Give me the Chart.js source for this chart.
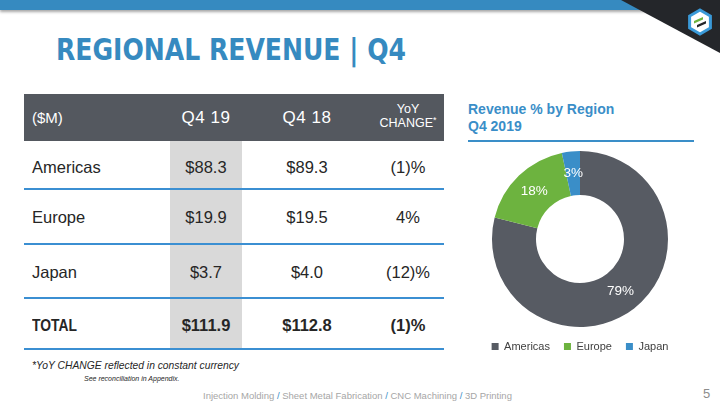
<!DOCTYPE html>
<html>
<head>
<meta charset="utf-8">
<script src="https://cdn.jsdelivr.net/npm/chart.js@4.4.0/dist/chart.umd.min.js"></script>
<style>
  body { margin: 0; width: 720px; height: 405px; position: relative; overflow: hidden; background: #fff;
         font-family: "Liberation Sans", Arial, sans-serif; color: #262626; }
  .abs { position: absolute; }
  #topbar { left: 0; top: 0; width: 720px; height: 10px; background: #368ac0; box-shadow: 0 2px 3px rgba(0,0,0,0.35); }
  #title { left: 56px; top: 31px; font-family: "DejaVu Sans Condensed", "Liberation Sans", sans-serif;
           font-weight: bold; font-size: 31px; color: #368ac0; line-height: 36px; white-space: nowrap;
           transform: scaleX(0.9); transform-origin: 0 0; }
  .cell { position: absolute; white-space: nowrap; font-size: 16.5px; line-height: 20px; }
  .hdr { color: #fff; }
  .star { font-size: 9px; position: relative; top: -4px; }
  .line { position: absolute; left: 24px; width: 420px; height: 2px; background: #3b8fd2; }
  .narrow { display: inline-block; transform: scaleX(0.84); transform-origin: 0 50%; }
  #note1 { left: 32px; top: 360px; font-size: 10.3px; font-style: italic; color: #262626; white-space: nowrap; }
  #note2 { left: 84px; top: 375px; font-size: 7px; font-style: italic; color: #262626; white-space: nowrap; }
  #footer { left: 203px; top: 390px; font-size: 9.5px; color: #a6a6a6; white-space: nowrap; }
  #footer b { color: #3a8ec8; font-weight: normal; }
  #pagenum { left: 703px; top: 386px; font-size: 13px; color: #8c8c8c; }
  #rtitle { left: 468px; top: 101px; font-size: 14px; font-weight: bold; color: #3a8ec8; line-height: 17px; }
  #rline { left: 468px; top: 140px; width: 226px; height: 2px; background: #3a8ec8; }
  #chartBox { left: 470px; top: 151px; width: 220px; height: 211px; }
</style>
</head>
<body>
<div id="topbar" class="abs"></div>
<svg class="abs" style="left:0;top:0" width="720" height="60">
  <polygon points="621,0 720,0 720,53" fill="#24262a"/>
  <polygon points="700,10 710.4,16 710.4,28 700,34 689.6,28 689.6,16" fill="#fff" stroke="#3a9ad9" stroke-width="3"/>
  <polygon points="694,21 703,17 703,19.5 694,23.5" fill="#6db33f"/>
  <polygon points="697,25 706,21 706,23.5 697,27.5" fill="#24262a"/>
</svg>
<div id="title" class="abs">REGIONAL REVENUE | Q4</div>

<div id="table"></div>

<div id="note1" class="abs">*YoY CHANGE reflected in constant currency</div>
<div id="note2" class="abs">See reconciliation in Appendix.</div>
<div id="footer" class="abs">Injection Molding <b>/</b> Sheet Metal Fabrication <b>/</b> CNC Machining <b>/</b> 3D Printing</div>
<div id="pagenum" class="abs">5</div>

<div id="rtitle" class="abs">Revenue % by Region<br>Q4 2019</div>
<div id="rline" class="abs"></div>
<div id="chartBox" class="abs"><canvas id="donut"></canvas></div>

<script>
// table data
const headers = ["($M)", "Q4 19", "Q4 18", "YoY<br>CHANGE<span class='star'>*</span>"];
const regions = ["Americas", "Europe", "Japan"];
const q419 = [88.3, 19.9, 3.7];
const q418 = [89.3, 19.5, 4.0];
const yoy = ["(1)%", "4%", "(12)%"];
const totalRow = ["TOTAL", "$111.9", "$112.8", "(1)%"];

// doughnut colours
const colors = ["#575b63", "#6db33f", "#3a8ec8"];

// layout of the table
const cols = [{x: 24, w: 146, left: true}, {x: 170, w: 72}, {x: 242, w: 130}, {x: 372, w: 72}];
const rowBottoms = [189, 244, 298, 349];
const textY = [167, 217, 272, 325];

const table = document.getElementById("table");
function addDiv(cls, style, html) {
    const d = document.createElement("div");
    d.className = cls;
    d.style.cssText = style;
    d.innerHTML = html;
    table.appendChild(d);
    return d;
}

// header band and shaded Q4 19 column
addDiv("abs", "left:24px;top:94px;width:420px;height:47px;background:#54585f", "");
addDiv("abs", "left:170px;top:141px;width:72px;height:208px;background:#d9d9d9", "");

headers.forEach((h, i) => {
    const c = cols[i];
    if (i === 3) {
        addDiv("cell hdr", `left:${c.x}px;width:${c.w}px;top:102px;text-align:center;font-size:12.5px;line-height:14px`, h);
    } else {
        const al = c.left ? "left;padding-left:8px" : "center";
        addDiv("cell hdr", `left:${c.x}px;width:${c.w - (c.left ? 8 : 0)}px;top:108px;text-align:${al};font-size:${i === 0 ? 15 : 17}px;letter-spacing:${i === 0 ? 0 : 0.5}px`, h);
    }
});

const fmt = v => "$" + v.toFixed(1);
const rows = regions.map((r, i) => [r, fmt(q419[i]), fmt(q418[i]), yoy[i]]);
rows.push(totalRow);

rows.forEach((row, ri) => {
    row.forEach((txt, ci) => {
        const c = cols[ci];
        const bold = ri === 3;
        const al = c.left ? "left;padding-left:8px" : "center";
        let st = `left:${c.x}px;width:${c.w - (c.left ? 8 : 0)}px;top:${textY[ri] - 10}px;text-align:${al}`;
        if (bold) st += ";font-weight:bold";
        addDiv("cell", st, bold && ci === 0 ? `<span class="narrow">${txt}</span>` : txt);
    });
    addDiv("line", `top:${rowBottoms[ri] - 1}px`, "");
});

// data labels inside the ring
const ringLabels = {
    id: "ringLabels",
    afterDatasetsDraw(chart) {
        const ctx = chart.ctx;
        const data = chart.data.datasets[0].data;
        const sum = data.reduce((a, b) => a + b, 0);
        ctx.save();
        ctx.fillStyle = "#ffffff";
        ctx.font = "13.5px 'Liberation Sans', Arial, sans-serif";
        ctx.textAlign = "center";
        ctx.textBaseline = "middle";
        chart.getDatasetMeta(0).data.forEach((arc, i) => {
            const p = arc.getCenterPoint();
            ctx.fillText(Math.round(data[i] / sum * 100) + "%", p.x, p.y);
        });
        ctx.restore();
    }
};

new Chart(document.getElementById("donut"), {
    type: "doughnut",
    data: {
        labels: regions,
        datasets: [{
            data: q419,
            backgroundColor: colors,
            borderWidth: 0
        }]
    },
    options: {
        responsive: true,
        maintainAspectRatio: false,
        animation: false,
        cutout: "50%",
        layout: { padding: 0 },
        plugins: {
            tooltip: { enabled: false },
            legend: {
                position: "bottom",
                labels: {
                    boxWidth: 7,
                    boxHeight: 7,
                    padding: 14,
                    color: "#404040",
                    font: { family: "'Liberation Sans', Arial, sans-serif", size: 11 }
                }
            }
        }
    },
    plugins: [ringLabels]
});
</script>
</body>
</html>
